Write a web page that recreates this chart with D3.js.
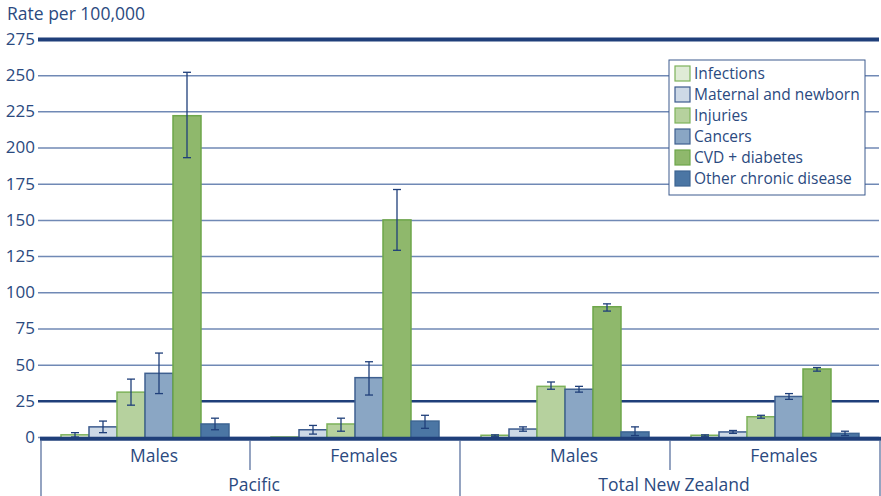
<!DOCTYPE html>
<html lang="en">
<head>
  <meta charset="UTF-8">
  <style>
    body { margin: 0; background: #fff; }
    svg text { font-family: "Open Sans", "Noto Sans", sans-serif; fill: #2b4a80; }
  </style>
</head>
<body>
  <svg id="svg" width="881" height="496"></svg>
  <script src="https://d3js.org/d3.v7.min.js"></script>
  <script>
    // data
    const subgroups = ['Males', 'Females', 'Males', 'Females']
    const groups = ['Pacific', 'Total New Zealand']
    const series = ['Infections', 'Maternal and newborn', 'Injuries', 'Cancers', 'CVD + diabetes', 'Other chronic disease']
    const yTicks = [0, 25, 50, 75, 100, 125, 150, 175, 200, 225, 250, 275]

    // one row per series, one value per subgroup
    const values = [
      [1.5, 0, 1.2, 1.2],
      [7, 5, 5.5, 3.5],
      [31, 9, 35, 14],
      [44, 41, 33, 28],
      [222, 150, 90, 47],
      [9, 11, 3.5, 2.5]
    ]
    const errLow = [
      [0, 0, 0.5, 0.5],
      [3, 2, 4, 2.5],
      [22, 4, 33, 13],
      [30, 29, 31, 26],
      [193, 129, 87, 45.5],
      [5, 6, 1, 1]
    ]
    const errHigh = [
      [3, 0, 1.5, 1.5],
      [11, 8, 7, 4.5],
      [40, 13, 38, 15],
      [58, 52, 35, 30],
      [252, 171, 92, 48],
      [13, 15, 7, 4]
    ]

    const fills = ['#dfebd6', '#cdd9e6', '#b6d19e', '#8aa6c4', '#8fb86c', '#4b76a4']
    const strokes = ['#7db25a', '#3c5b8e', '#7db25a', '#3f6090', '#6ea64a', '#3d6593']
    const navy = '#1f3f7a'

    const svg = d3.select('#svg')
    const left = 40, right = 880, zeroY = 437, topY = 39

    const x0 = d3.scaleBand().domain(d3.range(subgroups.length)).range([left, right])
    const x1 = d3.scaleBand().domain(series).range([0, x0.bandwidth()]).paddingInner(0).paddingOuter(0.75)
    const yscale = d3.scaleLinear().domain([0, 275]).range([zeroY, topY])

    // left axis + grid
    const leftAxis = d3.axisLeft(yscale)
      .tickValues(yTicks)
      .tickSize(-(right - left + 1))
      .tickPadding(3)
    const gAxis = svg.append('g')
      .attr('transform', `translate(${left - 2}, 0)`)
      .call(leftAxis)
    gAxis.select('.domain').remove()
    gAxis.selectAll('.tick line')
      .attr('stroke', d => (d === 275 || d === 25) ? navy : '#7089b5')
      .attr('stroke-width', d => d === 275 ? 4 : d === 25 ? 2.5 : 1.5)
    gAxis.selectAll('.tick text')
      .attr('font-size', 17)
      .style('fill', '#2b4a80')

    svg.append('text')
      .attr('x', 7).attr('y', 20)
      .attr('font-size', 17.5)
      .text('Rate per 100,000')

    // bars
    const barGroup = svg.append('g')
    series.forEach((s, si) => {
      barGroup.selectAll(null)
        .data(values[si])
        .enter()
        .append('rect')
        .attr('x', (d, i) => x0(i) + x1(s))
        .attr('y', d => yscale(d))
        .attr('width', x1.bandwidth())
        .attr('height', d => zeroY - yscale(d) + 1)
        .attr('fill', fills[si])
        .attr('stroke', strokes[si])
        .attr('stroke-width', 1.5)
    })

    // zero line
    svg.append('line')
      .attr('x1', left).attr('x2', right + 1)
      .attr('y1', zeroY + 1.7).attr('y2', zeroY + 1.7)
      .attr('stroke', navy).attr('stroke-width', 4)

    // error bars
    const errGroup = svg.append('g').attr('stroke', navy).attr('stroke-width', 1.3)
    series.forEach((s, si) => {
      d3.range(subgroups.length).forEach(i => {
        if (errHigh[si][i] === 0) return
        const cx = x0(i) + x1(s) + x1.bandwidth() / 2
        const lo = yscale(errLow[si][i]), hi = yscale(errHigh[si][i])
        errGroup.append('line').attr('x1', cx).attr('x2', cx).attr('y1', lo).attr('y2', hi)
        errGroup.append('line').attr('x1', cx - 4).attr('x2', cx + 4).attr('y1', lo).attr('y2', lo)
        errGroup.append('line').attr('x1', cx - 4).attr('x2', cx + 4).attr('y1', hi).attr('y2', hi)
      })
    })

    // category axis
    const sep = svg.append('g').attr('stroke', '#4d6798').attr('stroke-width', 1.2)
    d3.range(subgroups.length + 1).forEach(i => {
      const xx = i === subgroups.length ? right : x0(i)
      const full = (i % 2 === 0)
      sep.append('line')
        .attr('x1', xx + (i === 0 ? 1 : 0)).attr('x2', xx + (i === 0 ? 1 : 0))
        .attr('y1', zeroY + 3).attr('y2', full ? 496 : 470)
    })
    svg.append('g').selectAll('text')
      .data(subgroups)
      .enter()
      .append('text')
      .attr('x', (d, i) => x0(i) + x0.bandwidth() / 2 + 9)
      .attr('y', 462)
      .attr('text-anchor', 'middle')
      .attr('font-size', 17.5)
      .text(d => d)
    svg.append('g').selectAll('text')
      .data(groups)
      .enter()
      .append('text')
      .attr('x', (d, i) => x0(i * 2 + 1) + 4)
      .attr('y', 491)
      .attr('text-anchor', 'middle')
      .attr('font-size', 17.5)
      .text(d => d)

    // legend
    const legend = svg.append('g').attr('transform', 'translate(669, 60)')
    legend.append('rect')
      .attr('width', 196).attr('height', 135)
      .attr('fill', '#fff').attr('stroke', '#3c5b8e').attr('stroke-width', 1)
    const items = legend.selectAll('g.item')
      .data(series)
      .enter()
      .append('g')
      .attr('class', 'item')
      .attr('transform', (d, i) => `translate(6, ${6 + i * 21})`)
    items.append('rect')
      .attr('width', 15).attr('height', 15)
      .attr('fill', (d, i) => fills[i])
      .attr('stroke', (d, i) => strokes[i])
      .attr('stroke-width', 1.2)
    items.append('text')
      .attr('x', 19).attr('y', 13)
      .attr('font-size', 15.5)
      .text(d => d)
  </script>
</body>
</html>
